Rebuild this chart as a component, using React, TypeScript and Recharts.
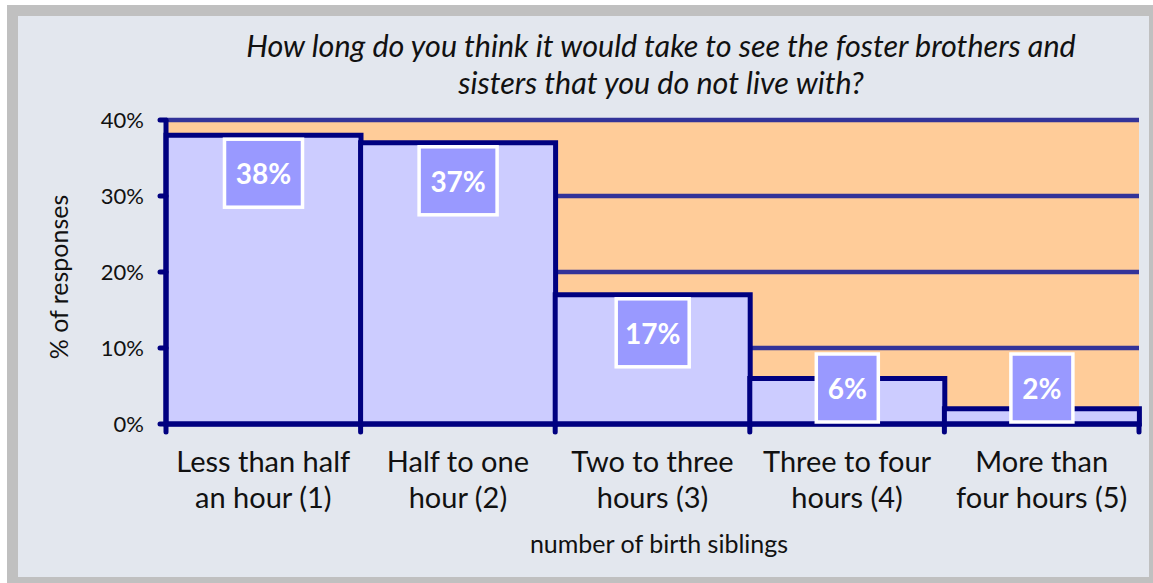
import React from 'react';
import { BarChart, Bar, XAxis, YAxis, CartesianGrid } from 'recharts';

const categoryLines: [string, string][] = [
  ['Less than half', 'an hour (1)'],
  ['Half to one', 'hour (2)'],
  ['Two to three', 'hours (3)'],
  ['Three to four', 'hours (4)'],
  ['More than', 'four hours (5)'],
];
const values = [0.38, 0.37, 0.17, 0.06, 0.02];
const yTicks = [0, 0.1, 0.2, 0.3, 0.4];
const titleLines = [
  'How long do you think it would take to see the foster brothers and',
  'sisters that you do not live with?',
];
const yTitle = '% of responses';
const xTitle = 'number of birth siblings';

const data = categoryLines.map((l, i) => ({ name: l.join(' '), value: values[i] }));

const NAVY = '#000080';
const GRID = '#333399';
const FONT = 'Lato, "Open Sans", sans-serif';

const pct = (v: number) => `${Math.round(v * 100)}%`;

const XTick = (props: any) => {
  const { x, y, index, visibleTicksCount, width } = props;
  const n = visibleTicksCount || categoryLines.length;
  const w = typeof width === 'number' && width > 0 ? width : 973;
  const half = w / n / 2;
  const lines = categoryLines[index] || ['', ''];
  return (
    <g>
      <line x1={x - half} x2={x - half} y1={y} y2={y + 8} stroke={NAVY} strokeWidth={5} strokeLinecap="round" />
      {index === n - 1 && (
        <line x1={x + half} x2={x + half} y1={y} y2={y + 8} stroke={NAVY} strokeWidth={5} strokeLinecap="round" />
      )}
      <text x={x} y={y + 48} textAnchor="middle" fontSize={29} fontFamily={FONT} fill="#111">
        {lines[0]}
      </text>
      <text x={x} y={y + 84} textAnchor="middle" fontSize={29} fontFamily={FONT} fill="#111">
        {lines[1]}
      </text>
    </g>
  );
};

const charW = (c: string) => (c === '1' ? 11 : c === '%' ? 24 : 16);

const BarLabel = (props: any) => {
  const { x, y, width, height, value } = props;
  const text = pct(Number(value));
  const tw = text.split('').reduce((s: number, c: string) => s + charW(c), 0);
  const bw = tw + 22;
  const bh = 68;
  const bottom = y + height;
  const top = Math.min(y + 4, bottom - bh - 2);
  const cx = x + width / 2;
  return (
    <g>
      <rect x={cx - bw / 2} y={top} width={bw} height={bh} fill="#9999ff" stroke="#ffffff" strokeWidth={3.5} />
      <text x={cx} y={top + bh / 2} textAnchor="middle" dominantBaseline="central" fill="#ffffff" fontWeight={700} fontSize={28} fontFamily={FONT}>
        {text}
      </text>
    </g>
  );
};

export default function App() {
  return (
    <div style={{ position: 'absolute', left: 0, top: 0, width: 1153, height: 583, overflow: 'hidden', background: '#ffffff' }}>
      <div style={{ position: 'absolute', left: 7, top: 5, width: 1146, height: 578, background: '#c0c0c0' }} />
      <div style={{ position: 'absolute', left: 18, top: 16, width: 1131, height: 561, background: '#e3e7ee' }} />
      <div style={{ position: 'absolute', left: 0, top: 0 }}>
        <BarChart
          width={1153}
          height={583}
          data={data}
          margin={{ top: 120, right: 14, bottom: 59, left: 0 }}
          barCategoryGap={0}
          barGap={0}
        >
          <CartesianGrid vertical={false} stroke={GRID} strokeWidth={4.5} fill="#ffcc99" fillOpacity={1} />
          <XAxis
            dataKey="name"
            height={100}
            tickSize={0}
            tickMargin={0}
            tickLine={false}
            axisLine={{ stroke: NAVY, strokeWidth: 5 }}
            tick={<XTick />}
            interval={0}
          />
          <YAxis
            width={166}
            domain={[0, 0.4]}
            ticks={yTicks}
            tickFormatter={pct}
            tickSize={6}
            tickMargin={16}
            tickLine={{ stroke: NAVY, strokeWidth: 5, strokeLinecap: 'round' }}
            axisLine={{ stroke: NAVY, strokeWidth: 5 }}
            tick={{ fill: '#111', fontSize: 22, fontFamily: FONT }}
          />
          <YAxis
            yAxisId="right"
            orientation="right"
            width={0}
            domain={[0, 0.4]}
            ticks={yTicks}
            tick={false}
            tickLine={false}
            axisLine={{ stroke: GRID, strokeWidth: 4.5 }}
          />
          <Bar
            dataKey="value"
            fill="#ccccff"
            stroke={NAVY}
            strokeWidth={5}
            isAnimationActive={false}
            label={(p: any) => <BarLabel {...p} />}
          />
        </BarChart>
      </div>
      <svg width={1153} height={583} style={{ position: 'absolute', left: 0, top: 0, pointerEvents: 'none' }}>
        <text x={661} y={57} textAnchor="middle" fontStyle="italic" fontSize={30.5} fontFamily={FONT} fill="#111">
          {titleLines[0]}
        </text>
        <text x={661} y={94} textAnchor="middle" fontStyle="italic" fontSize={30.5} fontFamily={FONT} fill="#111">
          {titleLines[1]}
        </text>
        <text x={58} y={277} transform="rotate(-90 58 277)" textAnchor="middle" dominantBaseline="central" fontSize={25} fontFamily={FONT} fill="#111">
          {yTitle}
        </text>
        <text x={659} y={553} textAnchor="middle" fontSize={25} fontFamily={FONT} fill="#111">
          {xTitle}
        </text>
      </svg>
    </div>
  );
}
